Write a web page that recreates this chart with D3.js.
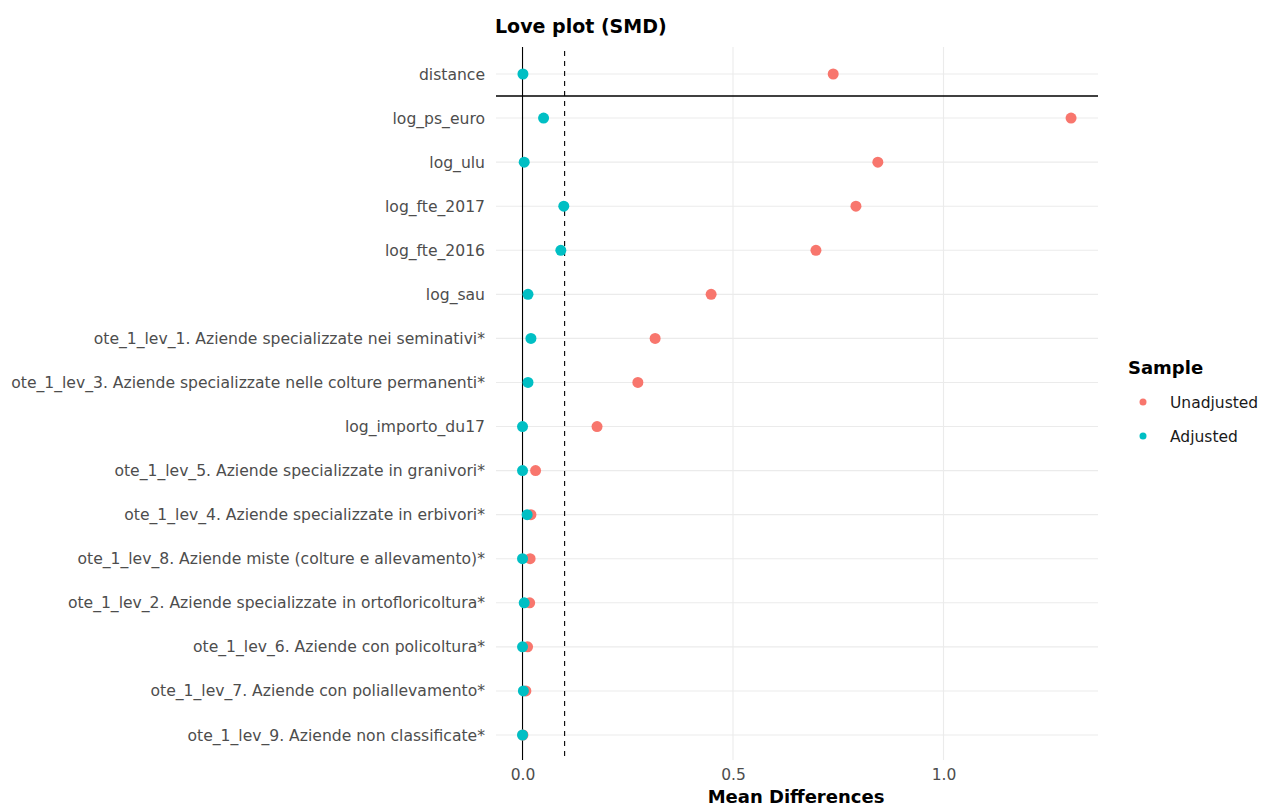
<!DOCTYPE html>
<html><head><meta charset="utf-8">
<script src="https://cdn.jsdelivr.net/npm/d3@7"></script>
<style>body{margin:0;background:#fff;} text{font-family:"DejaVu Sans", sans-serif;}</style>
</head><body>
<svg id="chart" width="1268" height="807"></svg>
<script>
const categories = [
  "distance","log_ps_euro","log_ulu","log_fte_2017","log_fte_2016","log_sau",
  "ote_1_lev_1. Aziende specializzate nei seminativi*",
  "ote_1_lev_3. Aziende specializzate nelle colture permanenti*",
  "log_importo_du17",
  "ote_1_lev_5. Aziende specializzate in granivori*",
  "ote_1_lev_4. Aziende specializzate in erbivori*",
  "ote_1_lev_8. Aziende miste (colture e allevamento)*",
  "ote_1_lev_2. Aziende specializzate in ortofloricoltura*",
  "ote_1_lev_6. Aziende con policoltura*",
  "ote_1_lev_7. Aziende con poliallevamento*",
  "ote_1_lev_9. Aziende non classificate*"
];
const unadjusted = [0.738,1.303,0.844,0.792,0.697,0.448,0.315,0.274,0.177,0.031,0.020,0.018,0.017,0.012,0.008,0.001];
const adjusted   = [0.001,0.050,0.004,0.098,0.091,0.013,0.020,0.013,0.000,0.000,0.011,0.000,0.004,0.000,0.002,0.000];
const seriesNames = ["Unadjusted","Adjusted"];
const seriesColors = ["#F8766D","#00BFC4"];
const xTicks = [0, 0.5, 1.0];
const threshold = 0.1;

const svg = d3.select("#chart");
const panel = {left:496, right:1098, top:47, bottom:760};

const x = d3.scaleLinear().domain([-0.063, 1.367]).range([panel.left, panel.right]);
const y = d3.scalePoint().domain(categories).range([74, 735]);
const step = y.step();

// grid
svg.append("g").selectAll("line").data(categories).join("line")
  .attr("x1", panel.left).attr("x2", panel.right)
  .attr("y1", d=>y(d)).attr("y2", d=>y(d))
  .attr("stroke","#EBEBEB").attr("stroke-width",1.1);
svg.append("g").selectAll("line").data(xTicks).join("line")
  .attr("x1", d=>x(d)).attr("x2", d=>x(d))
  .attr("y1", panel.top).attr("y2", panel.bottom)
  .attr("stroke","#EBEBEB").attr("stroke-width",1.1);

// reference lines
svg.append("line").attr("x1",x(0)).attr("x2",x(0)).attr("y1",panel.top).attr("y2",panel.bottom)
  .attr("stroke","#000").attr("stroke-width",1.1);
svg.append("line").attr("x1",x(threshold)).attr("x2",x(threshold)).attr("y1",panel.top+4).attr("y2",panel.bottom)
  .attr("stroke","#000").attr("stroke-width",1.1).attr("stroke-dasharray","5,5");
svg.append("line").attr("x1",panel.left).attr("x2",panel.right)
  .attr("y1",y(categories[0])+step/2).attr("y2",y(categories[0])+step/2)
  .attr("stroke","#000").attr("stroke-width",1.4);

// points
[unadjusted, adjusted].forEach((vals,i)=>{
  svg.append("g").selectAll("circle").data(vals).join("circle")
    .attr("cx", d=>x(d)).attr("cy", (d,j)=>y(categories[j]))
    .attr("r", 5.5).attr("fill", seriesColors[i]);
});

// y labels
const yAxis = d3.axisLeft(y).tickSize(0).tickPadding(11);
const yg = svg.append("g").attr("transform",`translate(${panel.left},0)`).call(yAxis);
yg.select(".domain").remove();
yg.selectAll("text").attr("fill","#4D4D4D").style("font-size","15.6px").style("font-family","'DejaVu Sans', sans-serif");

// x axis
const xAxis = d3.axisBottom(x).tickValues(xTicks).tickFormat(d3.format(".1f")).tickSize(0).tickPadding(9);
const xg = svg.append("g").attr("transform",`translate(0,${panel.bottom})`).call(xAxis);
xg.select(".domain").remove();
xg.selectAll("text").attr("fill","#4D4D4D").style("font-size","15.5px").style("font-family","'DejaVu Sans', sans-serif");

// titles
svg.append("text").attr("x",495).attr("y",33).text("Love plot (SMD)")
  .style("font-size","19px").style("font-weight","bold").attr("fill","#000");
svg.append("text").attr("x",796).attr("y",803).attr("text-anchor","middle")
  .text("Mean Differences").style("font-size","18px").style("font-weight","bold").attr("fill","#000");

// legend
const lg = svg.append("g");
lg.append("text").attr("x",1128).attr("y",374).text("Sample")
  .style("font-size","18px").style("font-weight","bold").attr("fill","#000");
seriesNames.forEach((s,i)=>{
  const cy = 402 + i*34;
  lg.append("circle").attr("cx",1143).attr("cy",cy).attr("r",3.5).attr("fill",seriesColors[i]);
  lg.append("text").attr("x",1170).attr("y",cy+6).text(s).style("font-size","15.5px").attr("fill","#1a1a1a");
});
</script>
</body></html>
